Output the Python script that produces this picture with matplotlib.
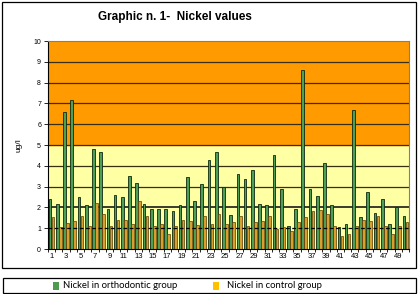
import numpy as np
import matplotlib
matplotlib.use("Agg")
import matplotlib.pyplot as plt
from matplotlib.patches import Rectangle

subjects = list(range(1, 51))
ortho = [2.39, 2.16, 6.59, 7.15, 2.50, 2.13, 4.81, 4.68, 1.92, 2.61,
         2.50, 3.49, 3.19, 2.15, 1.92, 1.90, 1.90, 1.83, 2.10, 3.46,
         2.30, 3.14, 4.28, 4.68, 3.00, 1.62, 3.59, 3.36, 3.80, 2.18,
         2.10, 4.54, 2.88, 1.09, 1.92, 8.59, 2.88, 2.56, 4.13, 2.10,
         1.04, 1.19, 6.70, 1.52, 2.76, 1.73, 2.40, 1.19, 2.04, 1.59]
control = [1.52, 1.04, 1.27, 1.35, 1.59, 1.10, 2.21, 1.68, 1.10, 1.39,
           1.41, 1.20, 2.31, 1.57, 1.10, 1.20, 0.72, 1.10, 1.40, 1.35,
           1.17, 1.59, 1.20, 1.68, 1.20, 1.31, 1.59, 1.10, 1.30, 1.35,
           1.59, 0.96, 1.06, 0.85, 1.31, 1.55, 1.83, 1.89, 1.70, 1.09,
           0.61, 0.70, 1.09, 1.41, 1.35, 1.59, 1.09, 0.72, 1.09, 1.30]
xtick_labels = [str(i) for i in range(1, 51, 2)]
yticks = list(range(0, 11))

fig = plt.figure(figsize=(4.19, 2.94), dpi=100)
fig.patch.set_facecolor("white")

# outer frames
fig.patches.append(Rectangle((2/419, 1 - 268/294), 414/419, 266/294,
                             transform=fig.transFigure, fill=False,
                             edgecolor="black", linewidth=0.9))
fig.patches.append(Rectangle((3/419, 1 - 293/294), 413/419, 15/294,
                             transform=fig.transFigure, fill=False,
                             edgecolor="black", linewidth=0.9))

ax = fig.add_axes([48/419, 1 - 249/294, 361/419, 208/294])
ax.axhspan(0, 5, color="#FFFFA3", zorder=0)
ax.axhspan(5, 10, color="#FF9A00", zorder=0)
for y in range(2, 10):
    ax.axhline(y, color="#3a2e10" if y != 2 else "#1a1a1a",
               lw=1.2 if y == 2 else 0.9, zorder=1)
ax.axhline(1, color="black", lw=0.9, ls=(0, (3, 2)), zorder=3)

x = np.arange(len(subjects))
bw = 0.37
ax.bar(x - bw / 2 - 0.02, ortho, bw, color="#4f9e58", edgecolor="#0d2a10",
       linewidth=0.6, zorder=2, label="Nickel in orthodontic group")
ax.bar(x + bw / 2 + 0.02, control, bw, color="#D9A030", edgecolor="#5a3a00",
       linewidth=0.5, zorder=2, label="Nickel in control group")

ax.set_xlim(-0.5, len(subjects) - 0.5)
ax.set_ylim(0, 10)
ax.set_yticks(yticks)
ax.set_yticklabels([str(v) for v in yticks], fontsize=5, family="Liberation Sans")
ax.set_xticks(x[::2])
ax.set_xticklabels(xtick_labels, fontsize=5.5, family="Liberation Sans")
ax.set_xticks(np.arange(-0.5, len(subjects), 1), minor=True)
ax.tick_params(axis="x", which="major", length=0, pad=3)
ax.tick_params(axis="x", which="minor", length=2.5, width=0.6, direction="out")
ax.tick_params(axis="y", length=3, width=0.6, pad=2)
for s in ["top", "right"]:
    ax.spines[s].set_color("#808080")
    ax.spines[s].set_linewidth(0.8)
ax.spines["left"].set_color("black")
ax.spines["bottom"].set_color("black")
ax.set_ylabel("ug/l", fontsize=6, family="Liberation Sans", labelpad=8)

fig.text(175/419, 1 - 17/294, "Graphic n. 1-  Nickel values", ha="center",
         va="center", fontsize=8.5, fontweight="bold", family="Liberation Sans")

# legend
fig.patches.append(Rectangle((53/419, 1 - 290/294), 6/419, 8/294,
                             transform=fig.transFigure, facecolor="#4e9a50",
                             edgecolor="none"))
fig.text(63/419, 1 - 286/294, "Nickel in orthodontic group", ha="left",
         va="center", fontsize=6.8, family="Lato")
fig.patches.append(Rectangle((213/419, 1 - 290/294), 6/419, 8/294,
                             transform=fig.transFigure, facecolor="#FFC000",
                             edgecolor="none"))
fig.text(227/419, 1 - 286/294, "Nickel in control group", ha="left",
         va="center", fontsize=6.8, family="Lato")

fig.savefig("out.png", dpi=100)
